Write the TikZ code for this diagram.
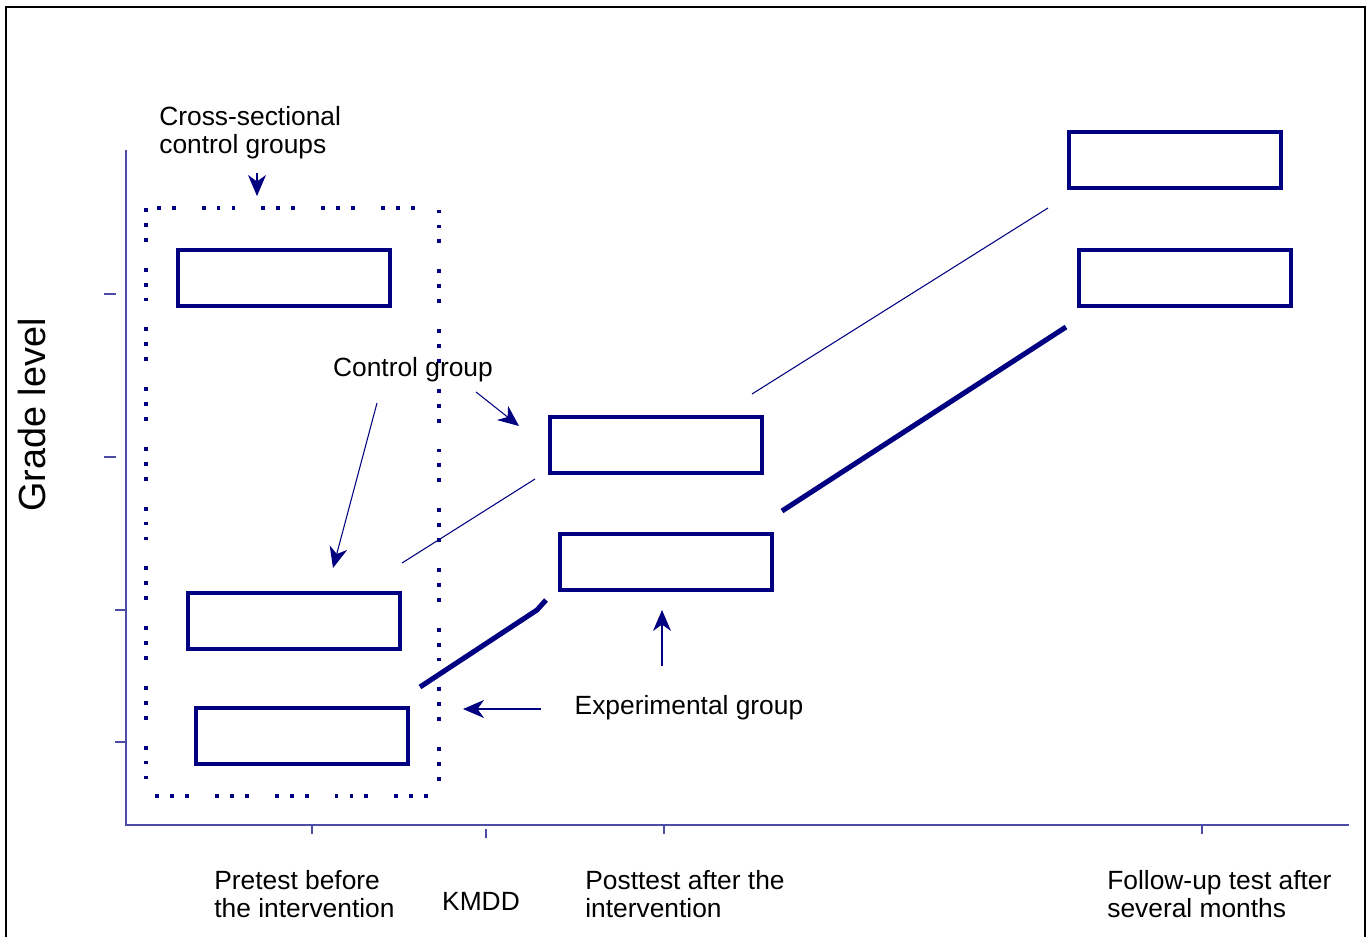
\documentclass[tikz,border=0pt]{standalone}
\usepackage{fontspec}
\setmainfont{Liberation Sans}
\usepackage{xcolor}
\usetikzlibrary{arrows.meta}
\definecolor{nv}{RGB}{0,0,128}

\begin{document}
\begin{tikzpicture}[x=0.02cm, y=-0.02cm,
  font=\fontsize{15}{16}\selectfont, >={Stealth[length=4.2mm,width=3.6mm,inset=1.3mm]},
  bx/.style={draw=nv, line width=2.6pt, inner sep=0pt, minimum width=4.24cm, minimum height=1.12cm},
  lb/.style={align=left, inner sep=0pt, anchor=west},
  ax/.style={draw=nv!70, line width=0.6pt},
  ar/.style={draw=nv, line width=0.6pt, ->},
  tk/.style={draw=nv, line width=2.9pt},
  tn/.style={draw=nv, line width=0.6pt},
  dots/.style={draw=nv, line width=2.2pt, dash pattern=on 2.2pt off 6.3pt on 2.2pt off 6.3pt on 2.2pt off 14.8pt}]
\useasboundingbox (0,0) rectangle (1367,937);
\draw[line width=0.9pt] (6,940) -- (6,7) -- (1365,7) -- (1365,940);
% axes and ticks
\draw[ax] (126,150) -- (126,825) -- (1349,825);
\foreach \y/\a/\b in {294/104/116, 457/104/116, 610/115/125, 742/115/125} \draw[ax] (\a,\y) -- (\b,\y);
\foreach \x/\a/\b in {312/825/834, 486/829/838, 664/825/834, 1202/825/834} \draw[ax] (\x,\a) -- (\x,\b);
\node[rotate=90, font=\fontsize{21.5}{24}\selectfont] (gl) at (32,415) {Grade level};
% cross-sectional frame
\draw[dots] (146,208) rectangle (439,796);
% boxes
\node[bx] (cs) at (284,278) {};
\node[bx] (pc) at (294,621) {};
\node[bx] (pe) at (302,736) {};
\node[bx] (qc) at (656,445) {};
\node[bx] (qe) at (666,562) {};
\node[bx] (fc) at (1175,160) {};
\node[bx] (fe) at (1185,278) {};
% trend lines
\coordinate (c1) at (402,563); \coordinate (c2) at (535,479);
\coordinate (c3) at (752,394); \coordinate (c4) at (1048,208);
\coordinate (e1) at (420,687); \coordinate (e2) at (537,610); \coordinate (e3) at (546,600);
\coordinate (e4) at (782,511); \coordinate (e5) at (1066,327);
\draw[tn] (c1) -- (c2); \draw[tn] (c3) -- (c4);
\draw[tk] (e1) -- (e2) -- (e3); \draw[tk] (e4) -- (e5);
% labels
\node[lb] (csl) at (159,133) {Cross-sectional\\control groups};
\node (cgl) at (413,370) {Control group};
\node (egl) at (689,708) {Experimental group};
\node[lb] (t1) at (214,894) {Pretest before\\the intervention};
\node (km) at (481,901) {KMDD};
\node[lb] (t2) at (585,894) {Posttest after the\\intervention};
\node[lb] (t3) at (1107,894) {Follow-up test after\\several months};
% pointers
\coordinate (a0) at (257,173); \coordinate (a1) at (257,196);
\coordinate (b0) at (377,403); \coordinate (b1) at (333,568);
\coordinate (b2) at (476,392); \coordinate (b3) at (519,426);
\coordinate (d0) at (541,709); \coordinate (d1) at (463,709);
\coordinate (d2) at (662,666); \coordinate (d3) at (662,610);
\draw[ar] (a0) -- (a1);
\draw[ar] (b0) -- (b1); \draw[ar] (b2) -- (b3);
\draw[ar] (d0) -- (d1); \draw[ar] (d2) -- (d3);
\end{tikzpicture}
\end{document}
